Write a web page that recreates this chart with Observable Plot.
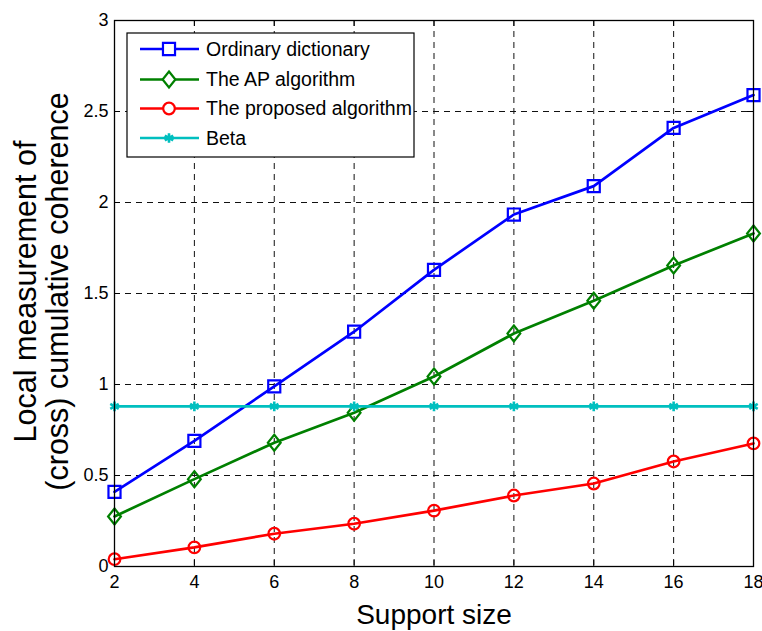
<!DOCTYPE html>
<html>
<head>
<meta charset="utf-8">
<script src="https://cdn.jsdelivr.net/npm/d3@7"></script>
<script src="https://cdn.jsdelivr.net/npm/@observablehq/plot@0.6"></script>
<style>
  html, body { margin: 0; padding: 0; background: #fff; }
  #chart { position: relative; width: 762px; height: 631px; }
</style>
</head>
<body>
<div id="chart"></div>
<script>
// ---- data ----
const supportSizes = [2, 4, 6, 8, 10, 12, 14, 16, 18];
const ordinaryDictionary = [0.41, 0.69, 0.99, 1.29, 1.63, 1.934, 2.09, 2.41, 2.59];
const apAlgorithm = [0.275, 0.48, 0.68, 0.845, 1.044, 1.28, 1.46, 1.654, 1.83];
const proposedAlgorithm = [0.04, 0.105, 0.18, 0.235, 0.307, 0.39, 0.456, 0.577, 0.676];
const betaValues = [0.88, 0.88, 0.88, 0.88, 0.88, 0.88, 0.88, 0.88, 0.88];
const seriesNames = ["Ordinary dictionary", "The AP algorithm", "The proposed algorithm", "Beta"];
const xTicks = [2, 4, 6, 8, 10, 12, 14, 16, 18];
const yTicks = [0, 0.5, 1, 1.5, 2, 2.5, 3];
const yTickLabels = ["0", "0.5", "1", "1.5", "2", "2.5", "3"];
const xLabel = "Support size";
const yLabel = "Local measurement of\n(cross) cumulative coherence";

// ---- styles ----
const colors = ["#0000ff", "#008000", "#ff0000", "#00bfbf"];
const FONT = "'Liberation Sans', Arial, Helvetica, sans-serif";

// custom MATLAB-like diamond (taller than wide)
const matlabDiamond = {
  draw(context, size) {
    const r = Math.sqrt(size / Math.PI);
    const hh = r, hw = r * 0.8;
    context.moveTo(0, -hh);
    context.lineTo(hw, 0);
    context.lineTo(0, hh);
    context.lineTo(-hw, 0);
    context.closePath();
  }
};
const symbols = [d3.symbolSquare, matlabDiamond, d3.symbolCircle, d3.symbolAsterisk];
const radii = [6.8, 8, 5.8, 4.6];

const allSeries = [ordinaryDictionary, apAlgorithm, proposedAlgorithm, betaValues];
const table = [];
allSeries.forEach((vals, si) => {
  vals.forEach((v, i) => table.push({series: seriesNames[si], si, x: supportSizes[i], y: v}));
});

const W = 762, H = 631;
const mL = 114, mR = 9, mT = 20, mB = 65;
const frameW = W - mL - mR, frameH = H - mT - mB;
const tickLen = 6;

const marks = [
  Plot.gridX(xTicks, {stroke: "#111", strokeOpacity: 1, strokeWidth: 1, strokeDasharray: "6,5"}),
  Plot.gridY(yTicks, {stroke: "#111", strokeOpacity: 1, strokeWidth: 1, strokeDasharray: "6,5"}),
];
allSeries.forEach((vals, si) => {
  const d = table.filter(t => t.si === si);
  marks.push(Plot.line(d, {x: "x", y: "y", stroke: colors[si], strokeWidth: 2.7}));
  marks.push(Plot.dot(d, {
    x: "x", y: "y", stroke: colors[si], fill: si === 3 ? colors[si] : "none",
    strokeWidth: si === 3 ? 2.6 : 2.2, symbol: () => symbols[si], r: radii[si]
  }));
});
marks.push(
  // inward ticks on all four sides
  Plot.tickX(xTicks, {x: d => d, insetTop: frameH - tickLen, stroke: "black"}),
  Plot.tickX(xTicks, {x: d => d, insetBottom: frameH - tickLen, stroke: "black"}),
  Plot.tickY(yTicks, {y: d => d, insetRight: frameW - tickLen, stroke: "black"}),
  Plot.tickY(yTicks, {y: d => d, insetLeft: frameW - tickLen, stroke: "black"}),
  Plot.frame({stroke: "black", strokeWidth: 1.3}),
  Plot.axisX(xTicks, {tickSize: 0, tickPadding: 9, fontSize: 18, label: null, tickFormat: d => String(d)}),
  Plot.axisY(yTicks, {tickSize: 0, tickPadding: 6, fontSize: 18, label: null,
    tickFormat: d => yTickLabels[yTicks.indexOf(d)]}),
  Plot.text([xLabel], {text: d => d, frameAnchor: "bottom", dy: 49, lineAnchor: "middle", textAnchor: "middle",
    fontSize: 28, fill: "black"}),
  Plot.text([yLabel], {text: d => d, frameAnchor: "left", dx: -73, dy: -2, rotate: -90,
    lineAnchor: "middle", textAnchor: "middle", lineHeight: 1.05, fontSize: 30.5, fill: "black"})
);

const plot = Plot.plot({
  width: W, height: H,
  marginLeft: mL, marginRight: mR, marginTop: mT, marginBottom: mB,
  style: {fontFamily: FONT, color: "black", background: "white", overflow: "visible"},
  x: {domain: [2, 18], axis: null},
  y: {domain: [0, 3], axis: null},
  marks
});

document.getElementById("chart").appendChild(plot);

// ---- legend (inside the axes, top-left) ----
const svg = d3.select(plot);
const lg = svg.append("g").attr("font-family", FONT).attr("text-anchor", "start");
const box = {x: 127, y: 33, w: 287, h: 124};
lg.append("rect").attr("x", box.x).attr("y", box.y).attr("width", box.w).attr("height", box.h)
  .attr("fill", "white").attr("stroke", "black").attr("stroke-width", 1.2);
const rowY = [49, 79.5, 108.5, 138];
seriesNames.forEach((name, si) => {
  const y = rowY[si];
  lg.append("line").attr("x1", 140).attr("x2", 199).attr("y1", y).attr("y2", y)
    .attr("stroke", colors[si]).attr("stroke-width", 2.7);
  lg.append("path")
    .attr("d", d3.symbol(symbols[si], Math.PI * radii[si] * radii[si])())
    .attr("transform", `translate(169,${y})`)
    .attr("fill", si === 3 ? colors[si] : "white")
    .attr("stroke", colors[si]).attr("stroke-width", si === 3 ? 2.6 : 2.2);
  lg.append("text").attr("x", 206).attr("y", y).attr("dy", "0.35em")
    .attr("text-anchor", "start")
    .attr("font-size", 19.5).attr("fill", "black").text(name);
});
</script>
</body>
</html>
